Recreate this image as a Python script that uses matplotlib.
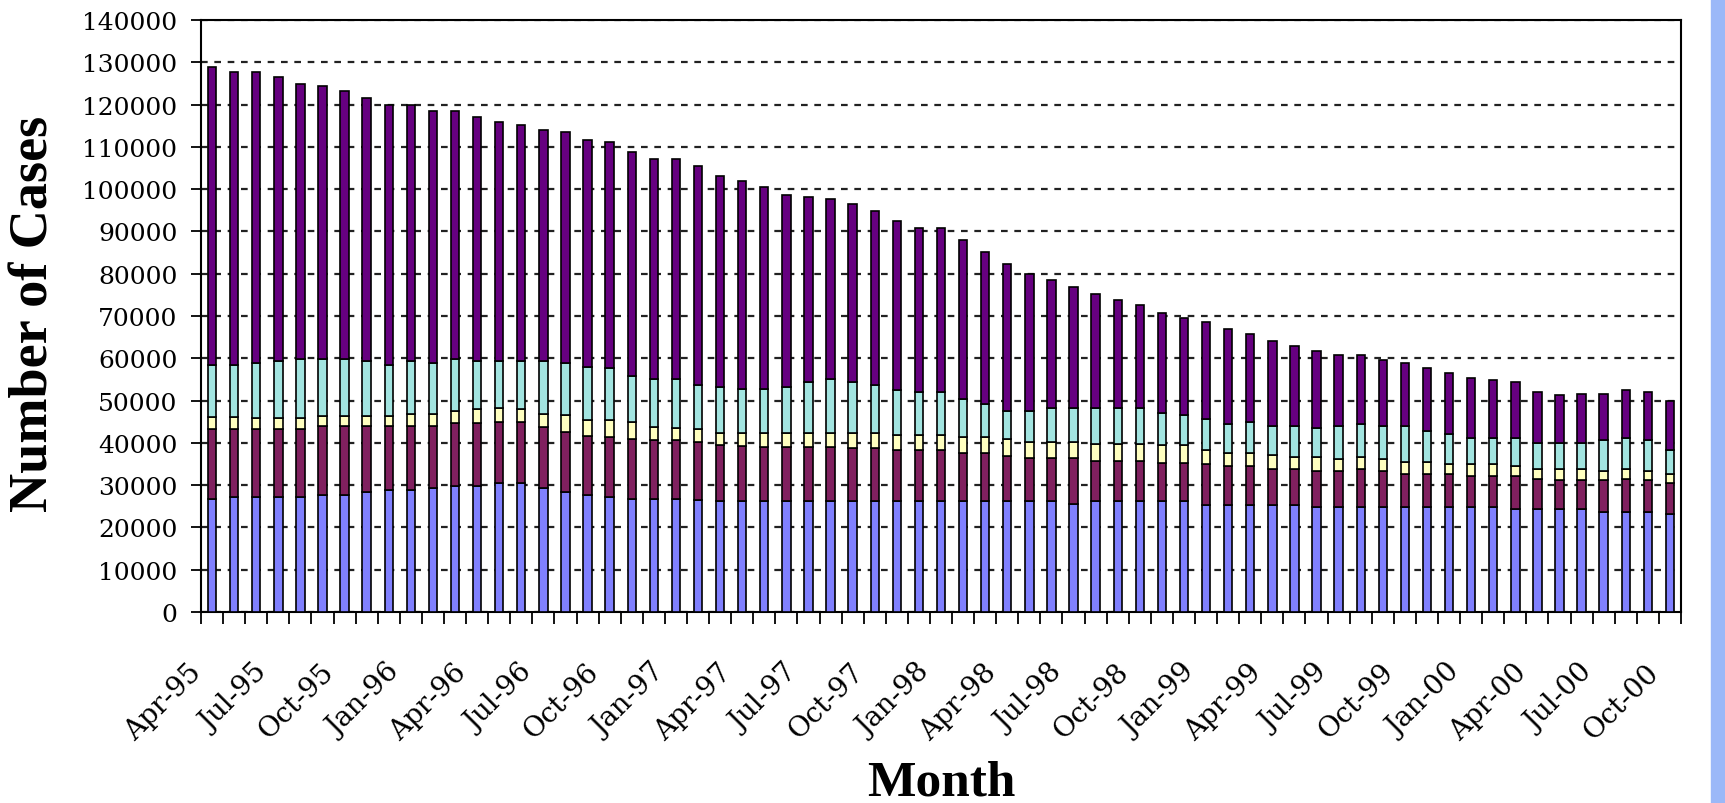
import numpy as np
import matplotlib.pyplot as plt
from matplotlib.transforms import ScaledTranslation
from matplotlib.patches import Rectangle

plt.rcParams['font.family'] = 'DejaVu Serif'

# monthly cases, Apr-95 .. Oct-00, stacked bottom -> top
blue = [26800, 27200, 27200, 27200, 27200, 27700, 27700, 28400, 28800, 28900,
        29300, 29900, 29900, 30600, 30600, 29300, 28400, 27600, 27200, 26800,
        26800, 26800, 26600, 26200, 26200, 26200, 26200, 26200, 26200, 26200,
        26200, 26200, 26200, 26200, 26200, 26200, 26200, 26200, 26200, 25600,
        26200, 26200, 26200, 26200, 26200, 25400, 25400, 25400, 25400, 25400,
        24800, 24800, 24800, 24800, 24800, 24800, 24800, 24800, 24800, 24300,
        24300, 24300, 24300, 23700, 23700, 23700, 23100]
maroon = [16500, 16100, 16100, 16100, 16100, 16200, 16200, 15500, 15100, 15200,
          14800, 14800, 14800, 14300, 14300, 14400, 14100, 14100, 14100, 14200,
          13800, 13800, 13600, 13200, 13000, 12800, 12800, 12800, 12800, 12500,
          12500, 12000, 12000, 12000, 11400, 11400, 10800, 10200, 10200, 10800,
          9600, 9600, 9600, 9100, 9100, 9700, 9100, 9100, 8500, 8500,
          8500, 8500, 9100, 8500, 7900, 7900, 7900, 7300, 7300, 7800,
          7200, 6800, 6800, 7400, 7800, 7400, 7500]
yellow = [2800, 2800, 2500, 2500, 2500, 2400, 2400, 2400, 2400, 2800,
          2800, 2900, 3300, 3300, 3100, 3200, 4100, 3800, 4000, 3900,
          3100, 2900, 3100, 3000, 3200, 3400, 3400, 3400, 3400, 3700,
          3700, 3700, 3700, 3700, 3700, 3700, 3800, 3800, 3800, 3800,
          4000, 4000, 4000, 4100, 4100, 3100, 3200, 3200, 3300, 2700,
          3300, 2800, 2700, 2800, 2700, 2700, 2300, 2900, 2900, 2400,
          2400, 2800, 2800, 2200, 2400, 2200, 2100]
cyan = [12300, 12300, 13200, 13600, 14000, 13500, 13500, 13100, 12100, 12500,
        12100, 12200, 11400, 11200, 11400, 12500, 12400, 12400, 12300, 11000,
        11300, 11600, 10400, 10800, 10400, 10400, 10800, 11900, 12600, 11900,
        11300, 10700, 10200, 10200, 9100, 7900, 6800, 7400, 8000, 8000,
        8400, 8400, 8400, 7700, 7100, 7500, 6800, 7300, 6700, 7300,
        6900, 7800, 7900, 7800, 8500, 7400, 7100, 6100, 6100, 6600,
        6100, 6100, 6100, 7300, 7200, 7300, 5700]
purple = [70400, 69200, 68600, 67200, 65100, 64500, 63300, 62100, 61500, 60500,
          59500, 58700, 57600, 56400, 55800, 54600, 54400, 53800, 53600, 53000,
          52200, 52100, 51700, 50000, 49200, 47600, 45500, 43800, 42600, 42100,
          41100, 39900, 38800, 38800, 37600, 36000, 34800, 32300, 30200, 28600,
          26900, 25700, 24500, 23500, 23100, 22900, 22400, 20700, 20100, 19000,
          18200, 16800, 16200, 15700, 14900, 15000, 14500, 14300, 13700, 13300,
          12000, 11400, 11500, 10900, 11500, 11400, 11400]

tick_labels = ['Apr-95', 'Jul-95', 'Oct-95', 'Jan-96', 'Apr-96', 'Jul-96',
               'Oct-96', 'Jan-97', 'Apr-97', 'Jul-97', 'Oct-97', 'Jan-98',
               'Apr-98', 'Jul-98', 'Oct-98', 'Jan-99', 'Apr-99', 'Jul-99',
               'Oct-99', 'Jan-00', 'Apr-00', 'Jul-00', 'Oct-00']

series = [blue, maroon, yellow, cyan, purple]
colors = ['#8080FF', '#80205F', '#FFFFC0', '#A2E4E0', '#660080']

fig = plt.figure(figsize=(17.25, 8.04), dpi=100)
fig.patches.append(Rectangle((1711 / 1725, 0), 14 / 1725, 1, transform=fig.transFigure,
                             color='#9BB8F8', zorder=0))
ax = fig.add_axes([201 / 1725, 1 - 613 / 804, 1480 / 1725, 592 / 804])

n = len(blue)
x = np.arange(n)
bottom = np.zeros(n)
for vals, c in zip(series, colors):
    ax.bar(x, vals, 0.38, bottom=bottom, color=c, edgecolor='black',
           linewidth=1.2, zorder=3)
    bottom += np.array(vals)

ax.set_xlim(-0.5, n - 0.5)
ax.set_ylim(0, 140000)
ax.set_yticks(np.arange(0, 140001, 10000))
ax.yaxis.grid(True, linestyle=(0, (3, 3)), color='#222222', linewidth=1.6)
ax.set_axisbelow(True)

ax.set_xticks(np.arange(-0.5, n, 1))
ax.set_xticklabels([])
ax.set_xticks(np.arange(0, n, 3), minor=True)
ax.set_xticklabels(tick_labels, minor=True)

ax.tick_params(axis='x', which='major', length=8.5, width=1.3, direction='out')
ax.tick_params(axis='x', which='minor', length=0, pad=40, labelsize=20)
ax.tick_params(axis='y', length=7, width=1.3, direction='out', pad=10, labelsize=18)

off = ScaledTranslation(-15 / 100, 0, fig.dpi_scale_trans)
for lab in ax.get_xticklabels(minor=True):
    lab.set_rotation(45)
    lab.set_ha('right')
    lab.set_va('center')
    lab.set_rotation_mode('anchor')
    lab.set_transform(lab.get_transform() + off)

for sp in ax.spines.values():
    sp.set_linewidth(1.5)
    sp.set_color('black')

fig.text(35 / 1725, 1 - 314 / 804, 'Number of Cases', rotation=90, ha='center',
         va='center', fontsize=39, fontweight='bold', family='Liberation Serif')
fig.text(941 / 1725, 1 - 784 / 804, 'Month', ha='center', va='center',
         fontsize=37, fontweight='bold', family='Liberation Serif')

fig.savefig('out.png', dpi=100)
